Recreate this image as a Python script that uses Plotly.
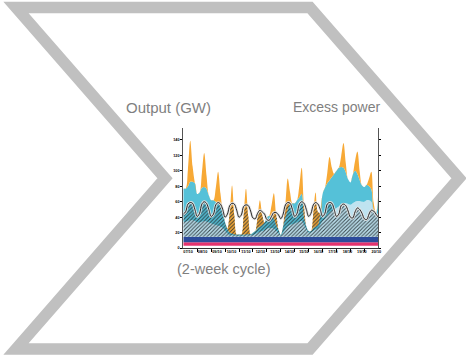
import numpy as np
import plotly.graph_objects as go

W, H = 466, 357

# ---------------- data (4-hour steps over 14 days) ----------------
n_pts = 85
days = np.arange(n_pts) / 6.0

gap_gw = [3.0] * n_pts           # empty strip under the pink band
pink_gw = [4.5] * n_pts          # pink base band
navy_gw = [7.2] * n_pts          # dark blue base band

# top of light-blue layer (GW)
lightblue_top = [
    34, 34, 35, 36, 36, 35,
    33, 33, 34, 35, 34, 33,
    32, 31, 30, 29, 28, 26,
    22, 19, 17, 16.5, 16.5, 16,
    16, 16, 16, 16.5, 16.5, 16.5,
    17, 18, 20, 21, 22, 23,
    25, 26, 26, 25, 22, 19,
    16, 20, 24, 28, 30, 31,
    32, 33, 34, 35, 30, 24,
    20, 20, 22, 24, 25, 30,
    35, 38, 42, 45, 48, 50,
    52, 54, 56, 58, 58, 57,
    56, 58, 60, 61, 61, 60,
    60, 62, 62, 60, 47, 43,
    45,
]

# top of cyan layer (GW)
cyan_top = [
    77, 77, 80, 86, 86, 84,
    70, 72, 78, 79, 77, 68,
    62, 62, 60, 58, 55, 47,
    33, 25, 20, 19, 18, 17.5,
    17.5, 17.5, 17.5, 18, 18, 18,
    20, 22, 26, 28, 30, 33,
    40, 42, 41, 38, 30, 24,
    17, 28, 40, 50, 57, 58,
    58, 62, 66, 70, 40, 28,
    22, 22, 26, 28, 30, 45,
    70, 78, 84, 88, 92, 96,
    100, 104, 105, 104, 98, 89,
    85, 95, 100, 96, 88, 81,
    79, 82, 80, 76, 50, 45,
    72,
]

# solar output stacked on top (GW)
solar_gw = [
    0, 0, 22, 53, 20, 0,
    0, 0, 19, 44, 17, 0,
    0, 0, 18, 41, 16, 0,
    0, 0, 26, 62, 24, 0,
    0, 0, 25, 59, 23, 0,
    0, 0, 14, 34, 13, 0,
    0, 0, 14, 33, 13, 0,
    0, 0, 17, 40, 15, 0,
    0, 0, 15, 34, 13, 0,
    0, 0, 19, 44, 17, 0,
    0, 0, 13, 30, 12, 0,
    0, 0, 14, 32, 12, 0,
    0, 0, 13, 29, 11, 0,
    0, 0, 10, 23, 9, 0,
    0,
]

# demand (black line, GW)
demand_gw = [
    44, 47, 57, 59, 58, 50,
    41, 45, 57, 60, 58, 50,
    41, 44, 56, 59, 57, 50,
    40, 44, 55, 58, 57, 49,
    40, 43, 54, 56, 55, 48,
    39, 38, 45, 49, 47, 44,
    37, 36, 41, 46, 46, 43,
    38, 44, 56, 59, 58, 50,
    41, 45, 57, 60, 58, 50,
    41, 45, 56, 59, 57, 50,
    41, 45, 57, 59, 58, 50,
    41, 44, 55, 57, 55, 48,
    40, 39, 47, 52, 50, 45,
    38, 37, 44, 49, 48, 44,
    40,
]

x_tick_labels = ["07/10", "08/10", "09/10", "10/10", "11/10", "12/10", "13/10",
                 "14/10", "15/10", "16/10", "17/10", "18/10", "19/10", "20/10"]
y_tick_values = [0, 20, 40, 60, 80, 100, 120, 140]

# ---------------- derived layers ----------------
base_top = np.array(gap_gw) + np.array(pink_gw) + np.array(navy_gw)
lb = np.array(lightblue_top, dtype=float)
cy = np.array(cyan_top, dtype=float)
wind_a = lb - base_top
wind_b = cy - lb
total = cy + np.array(solar_gw, dtype=float)
hatch_top = np.minimum(np.array(demand_gw, dtype=float), total)

fig = go.Figure()

def stack(y, color, name):
    fig.add_trace(go.Scatter(
        x=days, y=y, stackgroup="gen", mode="lines", name=name,
        line=dict(width=0, shape="spline", color="rgba(0,0,0,0)"),
        fillcolor=color, hoverinfo="skip", showlegend=False))

stack(gap_gw, "rgba(0,0,0,0)", "gap")
stack(pink_gw, "#E5336E", "pink")
stack(navy_gw, "#2C4B9B", "navy")
stack(wind_a, "#BFE3F0", "wind A")
stack(wind_b, "#55C1D8", "wind B")
stack(solar_gw, "#F7A936", "solar")

# hatched part of generation that meets demand
fig.add_trace(go.Scatter(x=days, y=base_top, mode="lines",
                         line=dict(width=0, color="rgba(0,0,0,0)", shape="spline"),
                         hoverinfo="skip", showlegend=False))
fig.add_trace(go.Scatter(x=days, y=hatch_top, mode="lines", fill="tonexty",
                         line=dict(width=0, color="rgba(0,0,0,0)", shape="spline"),
                         fillcolor="rgba(0,0,0,0)",
                         fillpattern=dict(shape="/", fgcolor="rgba(35,45,50,0.85)",
                                          bgcolor="rgba(0,0,0,0)", size=2.6, solidity=0.42),
                         hoverinfo="skip", showlegend=False))

# demand line with light halo
fig.add_trace(go.Scatter(x=days, y=demand_gw, mode="lines",
                         line=dict(width=2.8, color="rgba(230,230,230,0.9)", shape="spline"),
                         hoverinfo="skip", showlegend=False))
fig.add_trace(go.Scatter(x=days, y=demand_gw, mode="lines",
                         line=dict(width=0.9, color="#111111", shape="spline"),
                         hoverinfo="skip", showlegend=False))

# dummy trace for label axis
fig.add_trace(go.Scatter(x=[0], y=[0], xaxis="x2", yaxis="y", mode="markers",
                         marker=dict(opacity=0, size=1), hoverinfo="skip", showlegend=False))

def px(x, y):
    return f"{x / W:.5f},{1 - y / H:.5f}"

chev = [(16, 7.5), (310, 7.5), (459, 178.3), (310, 349), (16, 349), (165, 178.3)]
path = "M " + " L ".join(px(a, b) for a, b in chev) + " Z"

x0, x1 = 183.3, 378.3
ytop, ybot = 128.0, 248.1
tickfont = dict(size=3.8, color="#000000", family="Liberation Sans", weight="bold")

fig.update_layout(
    template="none",
    width=W, height=H, autosize=False,
    margin=dict(l=0, r=0, t=0, b=0, pad=0),
    paper_bgcolor="white", plot_bgcolor="white",
    showlegend=False,
    xaxis=dict(domain=[x0 / W, x1 / W], range=[0, 14], showgrid=False, zeroline=False,
               showline=True, linecolor="#333333", linewidth=1,
               ticks="outside", ticklen=3, tickwidth=1, tickcolor="#000000",
               tickvals=list(range(1, 14)), showticklabels=False, automargin=False,
               fixedrange=True),
    xaxis2=dict(overlaying="x", anchor="y", side="bottom", range=[0, 14],
                showgrid=False, zeroline=False, showline=False, ticks="",
                tickvals=[0.34 + 1.04 * i for i in range(14)], ticktext=x_tick_labels,
                tickfont=tickfont, automargin=False, fixedrange=True),
    yaxis=dict(domain=[1 - ybot / H, 1 - ytop / H], range=[0, 155.5], showgrid=False,
               zeroline=False, showline=True, linecolor="#555555", linewidth=1,
               mirror="ticks", ticks="outside", ticklen=2, tickwidth=1, tickcolor="#000000",
               tickvals=y_tick_values, tickfont=tickfont, automargin=False, fixedrange=True),
    shapes=[dict(type="path", path=path, xref="paper", yref="paper",
                 line=dict(color="#C0C0C0", width=11.5), fillcolor="rgba(0,0,0,0)",
                 layer="below")],
    annotations=[
        dict(text="Output (GW)", x=168.5 / W, y=1 - 107 / H, xref="paper", yref="paper",
             showarrow=False, xanchor="center", yanchor="middle",
             font=dict(size=15, color="#7F7F7F", family="Liberation Sans")),
        dict(text="Excess power", x=382 / W, y=1 - 107 / H, xref="paper", yref="paper",
             showarrow=False, xanchor="right", yanchor="middle",
             font=dict(size=14, color="#7F7F7F", family="Liberation Sans")),
        dict(text="(2-week cycle)", x=223 / W, y=1 - 268.5 / H, xref="paper", yref="paper",
             showarrow=False, xanchor="center", yanchor="middle",
             font=dict(size=14.5, color="#7F7F7F", family="Liberation Sans")),
    ],
)

fig.write_html("out.html", config={"displayModeBar": False},
               post_script="document.body.style.margin='0px';")
